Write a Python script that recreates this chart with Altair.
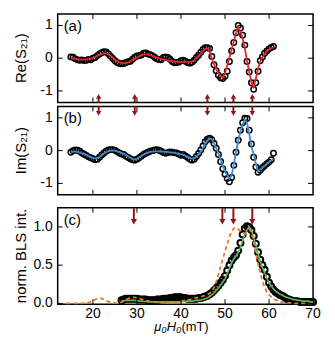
import altair as alt
import pandas as pd

# ---------------- data ----------------
field_ab = [15.0, 15.5, 16.0, 16.5, 17.0, 17.5, 18.0, 18.5, 19.0, 19.5,
            20.0, 20.5, 21.0, 21.5, 22.0, 22.5, 23.0, 23.5, 24.0, 24.5,
            25.0, 25.5, 26.0, 26.5, 27.0, 27.5, 28.0, 28.5, 29.0, 29.5,
            30.0, 30.5, 31.0, 31.5, 32.0, 32.5, 33.0, 33.5, 34.0, 34.5,
            35.0, 35.5, 36.0, 36.5, 37.0, 37.5, 38.0, 38.5, 39.0, 39.5,
            40.0, 40.5, 41.0, 41.5, 42.0, 42.5, 43.0, 43.5, 44.0, 44.5,
            45.0, 45.5, 46.0, 46.5, 47.0, 47.5, 48.0, 48.5, 49.0, 49.5,
            50.0, 50.5, 51.0, 51.5, 52.0, 52.5, 53.0, 53.5, 54.0, 54.5,
            55.0, 55.5, 56.0, 56.5, 57.0, 57.5, 58.0, 58.5, 59.0, 59.5,
            60.0, 60.5, 61.0]

re_data = [0.04, 0.03, -0.02, -0.05, -0.06, -0.05, -0.07, -0.06, -0.04, -0.05,
           0.00, 0.02, 0.08, 0.13, 0.17, 0.20, 0.19, 0.14, 0.06, -0.01,
           -0.08, -0.13, -0.16, -0.17, -0.16, -0.13, -0.11, -0.09, -0.03, 0.03,
           0.07, 0.08, 0.10, 0.15, 0.16, 0.13, 0.11, 0.08, 0.03, -0.02,
           -0.04, -0.05, 0.02, 0.04, 0.02, -0.03, -0.10, -0.14, -0.13, -0.12,
           -0.08, -0.06, -0.09, -0.13, -0.15, -0.12, -0.06, 0.02, 0.09, 0.18,
           0.27, 0.32, 0.32, 0.30, 0.05, -0.20, -0.38, -0.52, -0.60, -0.62,
           -0.55, -0.40, -0.10, 0.22, 0.48, 0.78, 1.00, 0.92, 0.70, 0.40,
           -0.10, -0.42, -0.75, -0.95, -0.75, -0.40, -0.08, 0.04, 0.15, 0.22,
           0.28, 0.33, 0.36]

re_fit = [0.00, -0.01, -0.02, -0.03, -0.04, -0.04, -0.04, -0.04, -0.03, -0.02,
          0.01, 0.04, 0.07, 0.10, 0.13, 0.15, 0.15, 0.12, 0.07, 0.02,
          -0.05, -0.09, -0.12, -0.14, -0.15, -0.15, -0.13, -0.10, -0.06, -0.02,
          0.02, 0.06, 0.09, 0.11, 0.12, 0.12, 0.10, 0.07, 0.04, 0.02,
          0.00, -0.02, -0.04, -0.05, -0.07, -0.08, -0.09, -0.10, -0.10, -0.11,
          -0.11, -0.11, -0.11, -0.11, -0.11, -0.10, -0.06, 0.00, 0.07, 0.15,
          0.22, 0.28, 0.30, 0.20, -0.02, -0.17, -0.33, -0.46, -0.55, -0.60,
          -0.45, -0.22, 0.02, 0.27, 0.52, 0.76, 0.95, 0.82, 0.60, 0.30,
          -0.08, -0.42, -0.75, -0.88, -0.62, -0.33, -0.10, 0.03, 0.13, 0.21,
          0.27, 0.31, 0.33]

im_data = [-0.05, 0.00, 0.02, 0.01, -0.02, -0.07, -0.11, -0.15, -0.19, -0.22,
           -0.25, -0.28, -0.26, -0.20, -0.13, -0.07, -0.02, 0.02, 0.03, 0.03,
           0.01, -0.03, -0.07, -0.10, -0.12, -0.17, -0.21, -0.25, -0.28, -0.29,
           -0.26, -0.22, -0.17, -0.12, -0.08, -0.05, -0.02, 0.00, 0.02, 0.03,
           0.01, -0.02, -0.06, -0.08, -0.06, -0.04, -0.05, -0.06, -0.07, -0.10,
           -0.14, -0.12, -0.16, -0.21, -0.26, -0.29, -0.26, -0.18, -0.09, 0.02,
           0.14, 0.27, 0.35, 0.38, 0.33, 0.22, 0.07, -0.12, -0.33, -0.55,
           -0.72, -0.85, -0.95, -0.82, -0.45, -0.05, 0.32, 0.62, 0.85, 0.99,
           0.98, 0.62, 0.20, -0.20, -0.50, -0.66, -0.60, -0.52, -0.46, -0.40,
           -0.35, -0.28, -0.08]

im_fit = [-0.04, -0.03, -0.03, -0.04, -0.06, -0.08, -0.10, -0.13, -0.16, -0.19,
          -0.22, -0.24, -0.23, -0.19, -0.14, -0.09, -0.05, -0.02, 0.00, 0.01,
          0.00, -0.02, -0.04, -0.07, -0.09, -0.13, -0.17, -0.22, -0.25, -0.27,
          -0.25, -0.21, -0.16, -0.12, -0.09, -0.06, -0.04, -0.03, -0.02, -0.02,
          -0.02, -0.03, -0.03, -0.04, -0.04, -0.05, -0.06, -0.07, -0.08, -0.10,
          -0.11, -0.13, -0.16, -0.19, -0.22, -0.24, -0.23, -0.18, -0.11, -0.03,
          0.09, 0.21, 0.30, 0.37, 0.35, 0.22, 0.08, -0.10, -0.28, -0.46,
          -0.62, -0.76, -0.86, -0.75, -0.42, -0.05, 0.30, 0.58, 0.80, 0.94,
          0.85, 0.52, 0.12, -0.10, -0.40, -0.63, -0.58, -0.52, -0.46, -0.40,
          -0.35, -0.30, -0.25]

field_c = [26.5, 27.0, 27.5, 28.0, 28.5, 29.0, 29.5, 30.0, 30.5, 31.0,
           31.5, 32.0, 32.5, 33.0, 33.5, 34.0, 34.5, 35.0, 35.5, 36.0,
           36.5, 37.0, 37.5, 38.0, 38.5, 39.0, 39.5, 40.0, 40.5, 41.0,
           41.5, 42.0, 42.5, 43.0, 43.5, 44.0, 44.5, 45.0, 45.5, 46.0,
           46.5, 47.0, 47.5, 48.0, 48.5, 49.0, 49.5, 50.0, 50.5, 51.0,
           51.5, 52.0, 52.5, 53.0, 53.5, 54.0, 54.5, 55.0, 55.5, 56.0,
           56.5, 57.0, 57.5, 58.0, 58.5, 59.0, 59.5, 60.0, 60.5, 61.0,
           61.5, 62.0, 62.5, 63.0, 63.5, 64.0, 64.5, 65.0, 65.5, 66.0,
           66.5, 67.0, 67.5, 68.0, 68.5, 69.0, 69.5, 70.0]

bls_data = [0.04, 0.05, 0.06, 0.06, 0.06, 0.06, 0.06, 0.06, 0.05, 0.05,
            0.05, 0.05, 0.04, 0.04, 0.04, 0.04, 0.05, 0.05, 0.05, 0.06,
            0.06, 0.06, 0.07, 0.07, 0.08, 0.08, 0.08, 0.08, 0.07, 0.07,
            0.06, 0.06, 0.06, 0.06, 0.06, 0.07, 0.07, 0.08, 0.09, 0.10,
            0.12, 0.14, 0.17, 0.20, 0.23, 0.27, 0.31, 0.36, 0.43, 0.50,
            0.56, 0.60, 0.63, 0.69, 0.79, 0.90, 0.98, 1.01, 1.00, 0.96,
            0.88, 0.78, 0.67, 0.57, 0.50, 0.44, 0.35, 0.27, 0.22, 0.18,
            0.15, 0.13, 0.11, 0.10, 0.08, 0.06, 0.05, 0.04, 0.03, 0.03,
            0.03, 0.02, 0.02, 0.02, 0.02, 0.02, 0.02, 0.02]

bls_fit = [0.03, 0.035, 0.04, 0.04, 0.04, 0.04, 0.04, 0.035, 0.03, 0.03,
           0.025, 0.025, 0.02, 0.02, 0.02, 0.02, 0.02, 0.02, 0.02, 0.02,
           0.02, 0.02, 0.02, 0.02, 0.02, 0.02, 0.02, 0.02, 0.025, 0.025,
           0.03, 0.03, 0.03, 0.035, 0.04, 0.04, 0.045, 0.05, 0.06, 0.07,
           0.09, 0.11, 0.14, 0.17, 0.20, 0.24, 0.28, 0.32, 0.39, 0.46,
           0.53, 0.58, 0.62, 0.67, 0.73, 0.82, 0.90, 0.96, 1.00, 0.96,
           0.86, 0.76, 0.65, 0.55, 0.47, 0.40, 0.33, 0.27, 0.23, 0.19,
           0.16, 0.14, 0.12, 0.11, 0.09, 0.08, 0.07, 0.06, 0.05, 0.05,
           0.04, 0.04, 0.03, 0.03, 0.03, 0.03, 0.02, 0.02]

field_sim = [14, 15, 16, 17, 18, 19, 20, 20.5, 21, 21.5, 22, 22.5, 23, 24, 25,
             26, 27, 28, 28.5, 29, 29.5, 30, 31, 32, 33, 34, 35, 36, 37, 38,
             39, 40, 41, 42, 43, 44, 45, 46, 46.5, 47, 47.5, 48, 48.5, 49,
             49.5, 50, 50.5, 51, 51.5, 52, 52.5, 53, 53.5, 54, 54.5, 55, 55.5,
             56, 56.5, 57, 57.5, 58, 58.5, 59, 59.5, 60, 61, 62, 63, 64, 65,
             66, 67, 68, 69, 70]
bls_sim = [0.0, 0.0, 0.0, 0.0, 0.005, 0.01, 0.03, 0.05, 0.065, 0.07, 0.065, 0.05,
           0.035, 0.015, 0.005, 0.005, 0.03, 0.06, 0.075, 0.08, 0.08, 0.07,
           0.055, 0.04, 0.025, 0.015, 0.01, 0.01, 0.01, 0.015, 0.02, 0.03,
           0.04, 0.05, 0.065, 0.08, 0.095, 0.115, 0.13, 0.16, 0.21, 0.28,
           0.38, 0.48, 0.58, 0.68, 0.78, 0.87, 0.94, 0.98, 0.99, 0.97, 0.94,
           0.92, 0.92, 0.94, 0.97, 0.93, 0.80, 0.66, 0.52, 0.40, 0.29, 0.21,
           0.15, 0.11, 0.06, 0.03, 0.015, 0.01, 0.005, 0.0, 0.0, 0.0, 0.0, 0.0]

arrows_ab = [21.3, 29.5, 46.0, 51.9, 56.2]
arrows_c = [29.3, 49.4, 51.9, 56.2]
xticks = [20, 30, 40, 50, 60]
xlabel_vals = [20, 30, 40, 50, 60, 70]
xlabel_text = ["20", "30", "40", "50", "60", "70"]
yticks_ab = [-1, 0, 1]
ylabel_ab = ["-1", "0", "1"]
yticks_c = [0.0, 0.5, 1.0]
ylabel_c = ["0.0", "0.5", "1.0"]
titles = {"a": "Re(S\u2082\u2081)", "b": "Im(S\u2082\u2081)", "c": "norm. BLS int."}
xtitle_main = "\u03bc\u2080H\u2080"
xtitle_unit = " (mT)"

# ---------------- style ----------------
W = 257
HA, HB, HC = 89, 89, 97
GAP = 10
DR = "#8b1a1a"
RED = "#e8262b"
BLUE = "#3b8bd0"
GREEN = "#5cb85c"
ORANGE = "#e87722"
FONT = "Liberation Sans"

xs = alt.Scale(domain=[12, 70], nice=False, zero=False)
ys_ab = alt.Scale(domain=[-1.35, 1.35], nice=False, zero=False)
ys_c = alt.Scale(domain=[-0.01, 1.25], nice=False, zero=False)

df_ab = pd.DataFrame({"field": field_ab, "re": re_data, "re_fit": re_fit,
                      "im": im_data, "im_fit": im_fit})
df_c = pd.DataFrame({"field": field_c, "bls": bls_data, "fit": bls_fit})
df_sim = pd.DataFrame({"field": field_sim, "sim": bls_sim})

Xf = alt.X("field:Q", scale=xs, axis=None)
Xarr = alt.X("x:Q", scale=xs, axis=None)


def frame_ticks(h, yvals, ys):
    xt = pd.DataFrame({"x": xticks})
    yt = pd.DataFrame({"y": yvals})
    Y = alt.Y("y:Q", scale=ys, axis=None)
    top = alt.Chart(xt).mark_rule(color="black", strokeWidth=1).encode(
        x=Xarr, y=alt.value(0), y2=alt.value(5))
    bot = alt.Chart(xt).mark_rule(color="black", strokeWidth=1).encode(
        x=Xarr, y=alt.value(h - 5), y2=alt.value(h))
    left = alt.Chart(yt).mark_rule(color="black", strokeWidth=1).encode(
        y=Y, x=alt.value(0), x2=alt.value(5))
    right = alt.Chart(yt).mark_rule(color="black", strokeWidth=1).encode(
        y=Y, x=alt.value(W - 5), x2=alt.value(W))
    return [top, bot, left, right]


def ylabels(vals, texts, ys):
    return alt.Chart(pd.DataFrame({"v": vals, "t": texts})).mark_text(
        align="right", baseline="middle", fontSize=14, font=FONT, color="black"
    ).encode(y=alt.Y("v:Q", scale=ys, axis=None), x=alt.value(-5), text="t:N")


def ytitle(txt, h):
    return alt.Chart(pd.DataFrame({"t": [txt]})).mark_text(
        align="center", baseline="middle", angle=270, fontSize=15, font=FONT,
        color="black"
    ).encode(x=alt.value(-37), y=alt.value(h / 2), text="t:N")


def panel_label(txt):
    return alt.Chart(pd.DataFrame({"t": [txt]})).mark_text(
        align="left", baseline="middle", fontSize=15, font=FONT, color="black"
    ).encode(x=alt.value(6), y=alt.value(12), text="t:N")


def points(df, col, ys, sw=1.5, size=30):
    return alt.Chart(df).mark_point(shape="circle", filled=False, size=size,
                                    strokeWidth=sw, color="black", opacity=1).encode(
        x=Xf, y=alt.Y(col + ":Q", scale=ys, axis=None))


def fitline(df, col, ys, color, dash=None, sw=1.8):
    kw = {"strokeDash": dash} if dash else {}
    return alt.Chart(df).mark_line(color=color, strokeWidth=sw, **kw).encode(
        x=Xf, y=alt.Y(col + ":Q", scale=ys, axis=None))


# ---------------- panel (a) ----------------
arr_df = pd.DataFrame({"x": arrows_ab})
shaft_a = alt.Chart(arr_df).mark_rule(color=DR, strokeWidth=2).encode(
    x=Xarr, y=alt.value(HA - 6), y2=alt.value(HA))
head_a = alt.Chart(arr_df).mark_point(shape="triangle-up", filled=True, size=30,
                                      color=DR, opacity=1).encode(
    x=Xarr, y=alt.value(HA - 6))
pa = alt.layer(points(df_ab, "re", ys_ab), fitline(df_ab, "re_fit", ys_ab, RED),
               *frame_ticks(HA, yticks_ab, ys_ab), shaft_a, head_a,
               panel_label("(a)"), ylabels(yticks_ab, ylabel_ab, ys_ab),
               ytitle(titles["a"], HA)).properties(width=W, height=HA)

# ---------------- panel (b) ----------------
shaft_b = alt.Chart(arr_df).mark_rule(color=DR, strokeWidth=2).encode(
    x=Xarr, y=alt.value(0), y2=alt.value(6))
head_b = alt.Chart(arr_df).mark_point(shape="triangle-down", filled=True, size=30,
                                      color=DR, opacity=1).encode(
    x=Xarr, y=alt.value(7))
# invisible spacer below (b) that opens the gap before (c)
spacer = alt.Chart(pd.DataFrame({"x": [40]})).mark_rule(opacity=0).encode(
    x=alt.value(20), y=alt.value(HB), y2=alt.value(HB + GAP))
pb = alt.layer(points(df_ab, "im", ys_ab), fitline(df_ab, "im_fit", ys_ab, BLUE),
               *frame_ticks(HB, yticks_ab, ys_ab), shaft_b, head_b,
               panel_label("(b)"), ylabels(yticks_ab, ylabel_ab, ys_ab),
               ytitle(titles["b"], HB), spacer).properties(width=W, height=HB)

# ---------------- panel (c) ----------------
arrc_df = pd.DataFrame({"x": arrows_c})
shaft_c = alt.Chart(arrc_df).mark_rule(color=DR, strokeWidth=2).encode(
    x=Xarr, y=alt.value(0), y2=alt.value(13))
head_c = alt.Chart(arrc_df).mark_point(shape="triangle-down", filled=True, size=40,
                                       color=DR, opacity=1).encode(
    x=Xarr, y=alt.value(14))
xlab_c = alt.Chart(pd.DataFrame({"x": xlabel_vals, "t": xlabel_text})).mark_text(
    align="center", baseline="top", fontSize=14, font=FONT, color="black"
).encode(x=Xarr, y=alt.value(HC + 3), text="t:N")
xt_main = alt.Chart(pd.DataFrame({"t": [xtitle_main]})).mark_text(
    align="right", baseline="top", fontSize=13, font=FONT, fontStyle="italic",
    color="black"
).encode(x=alt.value(W / 2 - 4), y=alt.value(HC + 17), text="t:N")
xt_unit = alt.Chart(pd.DataFrame({"t": [xtitle_unit]})).mark_text(
    align="left", baseline="top", fontSize=13, font=FONT, color="black"
).encode(x=alt.value(W / 2 - 4), y=alt.value(HC + 17), text="t:N")

pc = alt.layer(points(df_c, "bls", ys_c, sw=2.0, size=36),
               fitline(df_c, "fit", ys_c, GREEN, sw=1.6),
               fitline(df_sim, "sim", ys_c, ORANGE, dash=[4, 3]),
               *frame_ticks(HC, yticks_c, ys_c), shaft_c, head_c,
               panel_label("(c)"), ylabels(yticks_c, ylabel_c, ys_c),
               ytitle(titles["c"], HC), xlab_c, xt_main, xt_unit
               ).properties(width=W, height=HC)

chart = alt.vconcat(pa, pb, pc, spacing=0).properties(
    padding={"left": 5, "top": 3, "right": 5, "bottom": 0}
).configure(font=FONT).configure_view(stroke="black", strokeWidth=1.5)

chart.save("out.html", embed_options={"renderer": "svg", "actions": False})
